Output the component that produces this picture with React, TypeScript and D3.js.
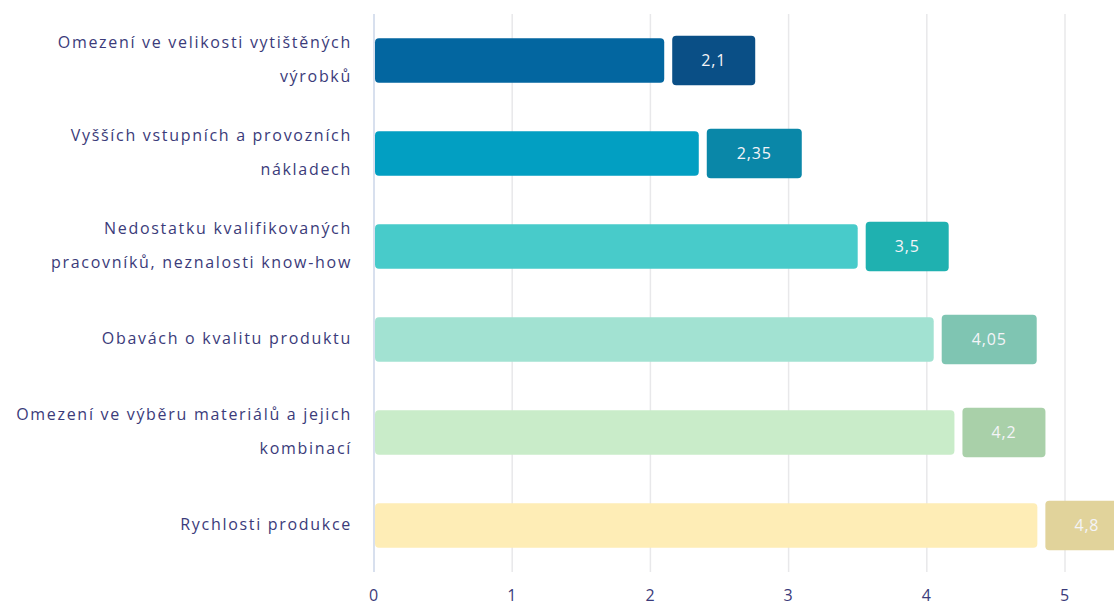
import React from "react";
import * as d3 from "d3";

const categories: string[][] = [
  ["Omezení ve velikosti vytištěných", "výrobků"],
  ["Vyšších vstupních a provozních", "nákladech"],
  ["Nedostatku kvalifikovaných", "pracovníků, neznalosti know-how"],
  ["Obavách o kvalitu produktu"],
  ["Omezení ve výběru materiálů a jejich", "kombinací"],
  ["Rychlosti produkce"],
];
const values: number[] = [2.1, 2.35, 3.5, 4.05, 4.2, 4.8];
const valueLabels: string[] = ["2,1", "2,35", "3,5", "4,05", "4,2", "4,8"];
const barColors: string[] = ["#0366a0", "#029fc2", "#48cbca", "#a2e2d2", "#c9ecc9", "#feedb6"];
const labelColors: string[] = ["#0a4f86", "#0a87a8", "#1fb1b0", "#7fc5b2", "#a9d0a9", "#e1d39b"];
const ticks: number[] = [0, 1, 2, 3, 4, 5];

const W = 1114, H = 606;
const left = 374, right = 1065;
const top = 14, bottom = 572;

export default function App() {
  const x = d3.scaleLinear().domain([0, 5]).range([left, right]);
  const y = d3.scaleBand<number>().domain(d3.range(values.length)).range([top, bottom]).paddingInner(0.52).paddingOuter(0.26);
  const bh = y.bandwidth();
  const font = "'Open Sans', sans-serif";
  const txt = "#3b3b7a";
  return (
    <svg width={W} height={H} style={{ position: "absolute", left: 0, top: 0, display: "block" }}>
      {ticks.map((t) => (
        <line key={t} x1={x(t)} x2={x(t)} y1={top} y2={bottom} stroke={t === 0 ? "#d8e0ee" : "#e8e8ea"} strokeWidth={t === 0 ? 2 : 1.5} />
      ))}
      {ticks.map((t) => (
        <text key={"t" + t} x={x(t)} y={597} textAnchor="middle" dominantBaseline="middle" fontFamily={font} fontSize={16} letterSpacing={0.8} fill={txt}>{t}</text>
      ))}
      {values.map((v, i) => {
        const cy = (y(i) as number) + bh / 2;
        const bw = 47 + 12 * valueLabels[i].length;
        const bx = x(v) + 8;
        const lines = categories[i];
        return (
          <g key={i}>
            <rect x={x(0) + 1} y={y(i)} width={x(v) - x(0) - 1} height={bh} rx={4} fill={barColors[i]} />
            <rect x={bx} y={cy - bh / 2 - 2.5} width={bw} height={bh + 5} rx={4} fill={labelColors[i]} />
            <text x={bx + bw / 2} y={cy + 1} textAnchor="middle" dominantBaseline="middle" fontFamily={font} fontSize={16} letterSpacing={0.8} fill="#f4f4f8">{valueLabels[i]}</text>
            {lines.map((l, j) => (
              <text key={j} x={352} y={cy + (j - (lines.length - 1) / 2) * 34} textAnchor="end" dominantBaseline="middle" fontFamily={font} fontSize={16} letterSpacing={1.7} fill={txt}>{l}</text>
            ))}
          </g>
        );
      })}
    </svg>
  );
}
